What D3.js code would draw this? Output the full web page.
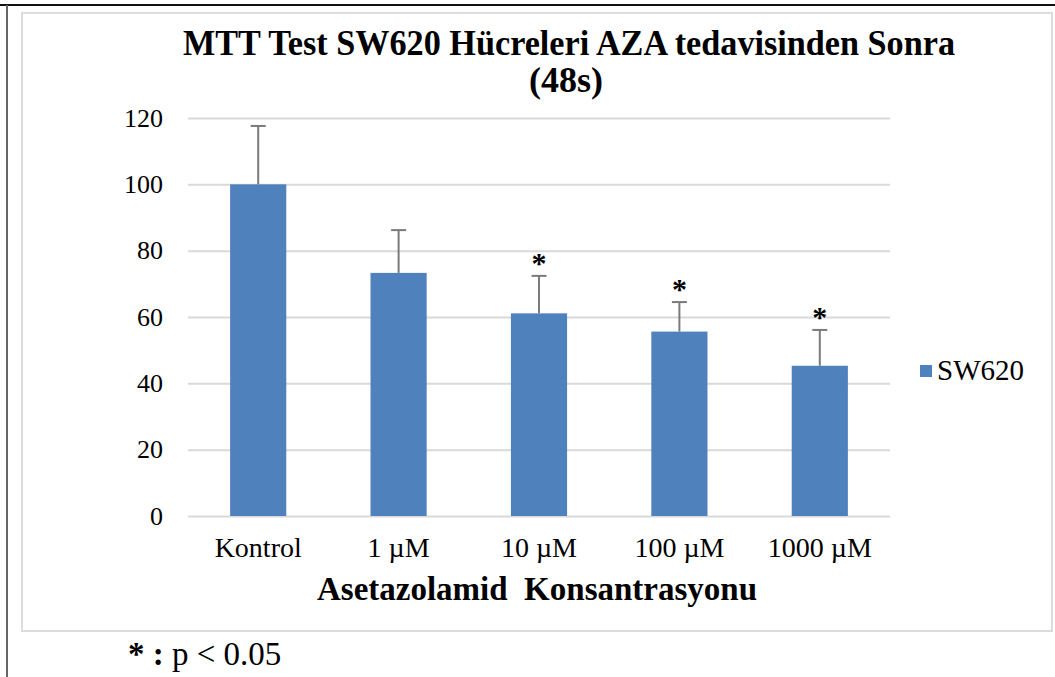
<!DOCTYPE html>
<html>
<head>
<meta charset="utf-8">
<script src="https://cdn.jsdelivr.net/npm/d3@7"></script>
<style>
  body { margin: 0; background: #fff; }
  text { font-family: "Times New Roman", "Liberation Serif", serif; }
</style>
</head>
<body>
<div id="chart"></div>
<script>
const categories = ['Kontrol', '1 µM', '10 µM', '100 µM', '1000 µM'];
const means = [100, 73.3, 61.1, 55.6, 45.3];
const errors = [17.6, 12.9, 11.3, 8.9, 10.8];
const significant = [false, false, true, true, true];
const yTicks = [0, 20, 40, 60, 80, 100, 120];

const width = 1055;
const height = 677;
const plot = {left: 188, right: 890, top: 118, bottom: 516};

const svg = d3.select('#chart')
    .append('svg')
    .attr('width', width)
    .attr('height', height);

// page frame lines
svg.append('line')
    .attr('x1', 0).attr('x2', width)
    .attr('y1', 5).attr('y2', 5)
    .attr('stroke', '#111')
    .attr('stroke-width', 2);

svg.append('line')
    .attr('x1', 7).attr('x2', 7)
    .attr('y1', 5).attr('y2', height)
    .attr('stroke', '#666')
    .attr('stroke-width', 2);

// chart area border
svg.append('rect')
    .attr('x', 22)
    .attr('y', 13)
    .attr('width', 1030)
    .attr('height', 618)
    .attr('fill', '#fff')
    .attr('stroke', '#dcdcdc')
    .attr('stroke-width', 2);

const x = d3.scaleBand()
    .domain(categories)
    .range([plot.left, plot.right])
    .paddingInner(0.6)
    .paddingOuter(0.3);

const y = d3.scaleLinear()
    .domain([0, 120])
    .range([plot.bottom, plot.top]);

// gridlines + y labels
const yAxis = svg.append('g')
    .attr('transform', `translate(${plot.left}, 0)`)
    .call(d3.axisLeft(y).tickValues(yTicks).tickSize(-(plot.right - plot.left)).tickPadding(25));

yAxis.select('.domain').remove();
yAxis.selectAll('.tick line')
    .attr('stroke', '#d9d9d9')
    .attr('stroke-width', 2);
yAxis.selectAll('.tick text')
    .style('font-family', '"Times New Roman", "Liberation Serif", serif')
    .style('font-size', '26px')
    .attr('fill', '#000');

// bars
svg.selectAll('rect.bar')
    .data(categories)
    .enter()
    .append('rect')
    .attr('class', 'bar')
    .attr('x', d => x(d))
    .attr('y', (d, i) => y(means[i]))
    .attr('width', x.bandwidth())
    .attr('height', (d, i) => y(0) - y(means[i]))
    .attr('fill', '#4f81bd');

// error bars (upper only)
const err = svg.selectAll('g.err')
    .data(categories)
    .enter()
    .append('g')
    .attr('class', 'err')
    .attr('transform', d => `translate(${x(d) + x.bandwidth() / 2}, 0)`);

err.append('line')
    .attr('x1', 0).attr('x2', 0)
    .attr('y1', (d, i) => y(means[i]))
    .attr('y2', (d, i) => y(means[i] + errors[i]))
    .attr('stroke', '#7a7a7a')
    .attr('stroke-width', 2);

err.append('line')
    .attr('x1', -7.5).attr('x2', 7.5)
    .attr('y1', (d, i) => y(means[i] + errors[i]))
    .attr('y2', (d, i) => y(means[i] + errors[i]))
    .attr('stroke', '#7a7a7a')
    .attr('stroke-width', 2);

err.filter((d, i) => significant[i])
    .append('text')
    .text('*')
    .attr('text-anchor', 'middle')
    .attr('y', d => y(means[categories.indexOf(d)] + errors[categories.indexOf(d)]) - 3)
    .style('font-size', '30px')
    .style('font-weight', 'bold')
    .attr('fill', '#000');

// x labels
svg.selectAll('text.xlab')
    .data(categories)
    .enter()
    .append('text')
    .attr('class', 'xlab')
    .text(d => d)
    .attr('x', d => x(d) + x.bandwidth() / 2)
    .attr('y', 557)
    .attr('text-anchor', 'middle')
    .style('font-size', '28px');

// axis title
svg.append('text')
    .text('Asetazolamid  Konsantrasyonu')
    .attr('x', 537)
    .attr('y', 600)
    .attr('text-anchor', 'middle')
    .style('font-size', '33px')
    .style('font-weight', 'bold')
    .style('white-space', 'pre');

// chart title
svg.append('text')
    .text('MTT Test SW620 Hücreleri AZA tedavisinden Sonra')
    .attr('x', 569)
    .attr('y', 55)
    .attr('text-anchor', 'middle')
    .attr('textLength', 772)
    .attr('lengthAdjust', 'spacingAndGlyphs')
    .style('font-size', '36px')
    .style('font-weight', 'bold');

svg.append('text')
    .text('(48s)')
    .attr('x', 566)
    .attr('y', 92)
    .attr('text-anchor', 'middle')
    .style('font-size', '36px')
    .style('font-weight', 'bold');

// legend
svg.append('rect')
    .attr('x', 920)
    .attr('y', 365)
    .attr('width', 12)
    .attr('height', 12)
    .attr('fill', '#4f81bd');

svg.append('text')
    .text('SW620')
    .attr('x', 937)
    .attr('y', 380)
    .style('font-size', '29px');

// significance note
const note = svg.append('text')
    .attr('x', 128)
    .attr('y', 665)
    .style('font-size', '33px');
note.append('tspan').text('* : ').style('font-weight', 'bold');
note.append('tspan').text('p < 0.05');
</script>
</body>
</html>
